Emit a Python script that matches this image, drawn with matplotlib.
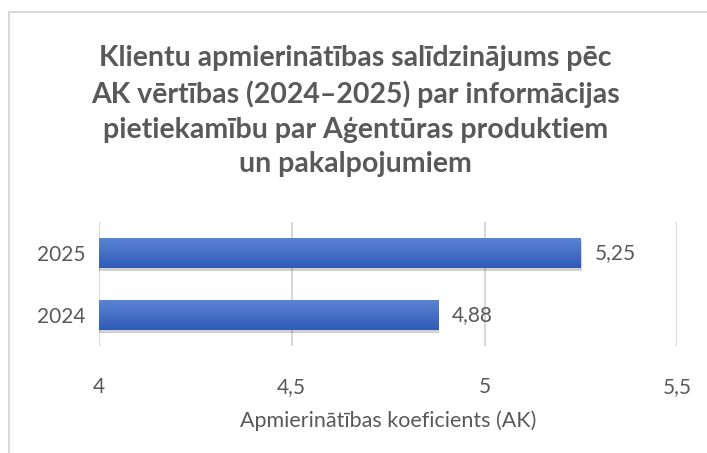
import matplotlib.pyplot as plt
import numpy as np
from matplotlib.lines import Line2D
from matplotlib.colors import LinearSegmentedColormap
import matplotlib.patheffects as pe

years = ["2024", "2025"]
ak_values = [4.88, 5.25]
x_ticks = [4, 4.5, 5, 5.5]
x_tick_labels = ["4", "4,5", "5", "5,5"]

plt.rcParams['font.family'] = ['Lato', 'DejaVu Sans']
grey = '#595959'

fig = plt.figure(figsize=(7.07, 4.53), dpi=100)
ax = fig.add_axes([0.140, 0.236, 0.818, 0.274])
ax.set_xlim(4, 5.5)

bars = ax.barh(years, ak_values, height=0.48, color='#4472c4', zorder=3,
               path_effects=[pe.SimplePatchShadow(offset=(0.8, -2.2), shadow_rgbFace='#000000', alpha=0.18),
                             pe.Normal()])

# vertical gradient in each bar
grad = np.linspace(0, 1, 64).reshape(-1, 1)
cmap = LinearSegmentedColormap.from_list('b', ['#2e5cb8', '#5b83d1'])
for b in bars:
    y0 = b.get_y()
    im = ax.imshow(grad, cmap=cmap, aspect='auto', origin='lower',
                   extent=[4, b.get_width(), y0, y0 + b.get_height()], zorder=4)
    im.set_clip_path(b)

for b, v in zip(bars, ak_values):
    ax.annotate(f"{v:.2f}".replace('.', ','), (v, b.get_y() + b.get_height() / 2),
                xytext=(10, 0), textcoords='offset points', va='center', ha='left',
                fontsize=15, color=grey)

ax.set_xlim(4, 5.5)
ax.set_ylim(-0.5, 1.5)
ax.set_xticks(x_ticks)
ax.set_xticklabels(x_tick_labels)
ax.grid(axis='x', color='#d9d9d9', linewidth=1.5, zorder=0)
ax.set_axisbelow(True)
for s in ax.spines.values():
    s.set_visible(False)
ax.tick_params(length=0, labelsize=15, labelcolor=grey)
ax.tick_params(axis='x', pad=22)
ax.tick_params(axis='y', pad=10)
ax.set_xlabel("Apmierinātības koeficients (AK)", fontsize=15.5, color=grey, labelpad=10)

fig.text(0.503, 0.755, "Klientu apmierinātības salīdzinājums pēc\nAK vērtības (2024–2025) par informācijas\n"
         "pietiekamību par Aģentūras produktiem\nun pakalpojumiem",
         ha='center', va='center', fontsize=20.5, fontweight='bold', color=grey, linespacing=1.42)

# chart border (cropped on right and bottom)
fig.add_artist(Line2D([9 / 707, 9 / 707], [0, 1 - 12 / 453], color='#d9d9d9', linewidth=1.5))
fig.add_artist(Line2D([9 / 707, 1], [1 - 12 / 453, 1 - 12 / 453], color='#d9d9d9', linewidth=1.5))

fig.savefig("out.png", dpi=100)
